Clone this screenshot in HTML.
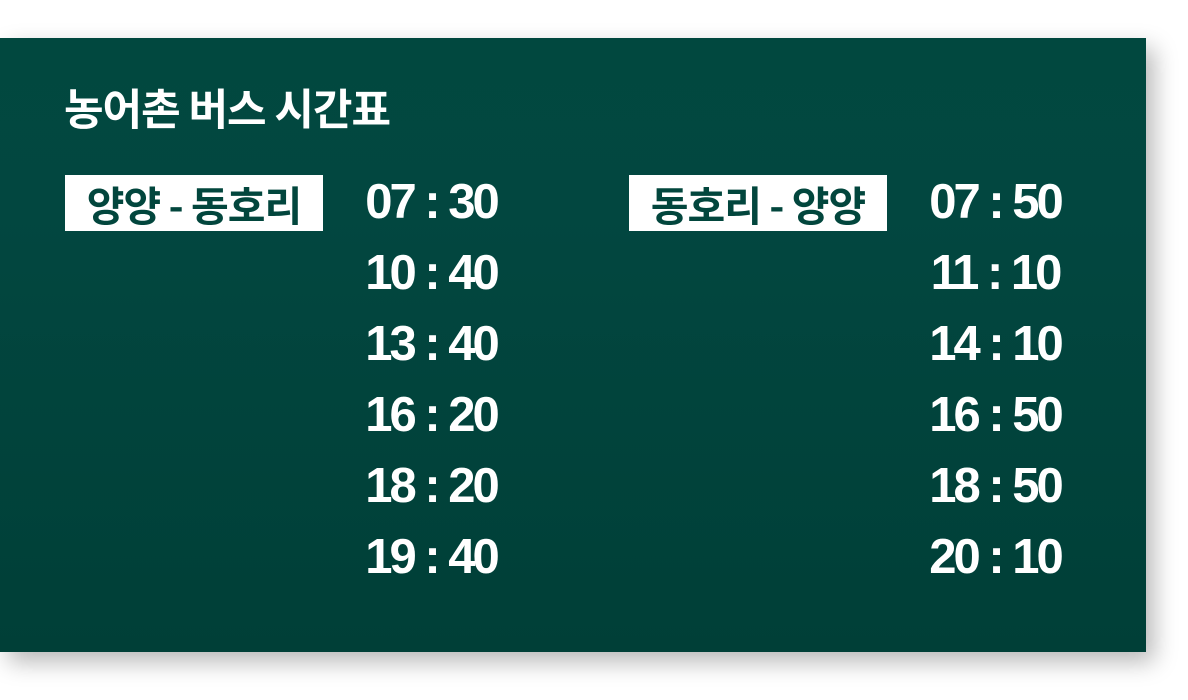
<!DOCTYPE html>
<html><head><meta charset="utf-8"><style>
body{margin:0;width:1188px;height:700px;background:#fff;overflow:hidden;position:relative;font-family:"Liberation Sans","Noto Sans CJK KR",sans-serif}
#card{position:absolute;left:0;top:38px;width:1146px;height:614px;background:linear-gradient(#01483f 0%,#024740 28%,#003f37 100%);box-shadow:8px 10px 22px rgba(0,0,0,.28)}
.t{position:absolute;color:#fff;font-weight:bold}
#title{left:64px;top:41px;font-size:43px;line-height:56px;font-family:"Noto Sans CJK KR",sans-serif;letter-spacing:-1px}
.lab{position:absolute;top:137px;width:258px;height:56px;background:#fff;color:#02463d;font-family:"Noto Sans CJK KR",sans-serif;font-weight:bold;font-size:41px;line-height:56px;text-align:center;letter-spacing:-1px;overflow:hidden}
.tm{position:absolute;width:200px;text-align:center;color:#fff;font-weight:bold;font-size:49px;letter-spacing:-3px;line-height:50px}
</style></head><body>
<div id="card">
<div id="title" class="t">농어촌 버스 시간표</div>
<div class="lab" style="left:65px">양양 - 동호리</div>
<div class="lab" style="left:629px">동호리 - 양양</div>
</div>
<script>
const leftTimes=["07 : 30","10 : 40","13 : 40","16 : 20","18 : 20","19 : 40"];
const rightTimes=["07 : 50","11 : 10","14 : 10","16 : 50","18 : 50","20 : 10"];
const card=document.getElementById('card');
function put(arr,cx){
arr.forEach((s,i)=>{
const d=document.createElement('div');
d.className='tm';
d.textContent=s;
d.style.left=(cx-100)+'px';
d.style.top=(139+i*71)+'px';


card.appendChild(d);
});
}
put(leftTimes,431);
put(rightTimes,995);
</script>
</body></html>
